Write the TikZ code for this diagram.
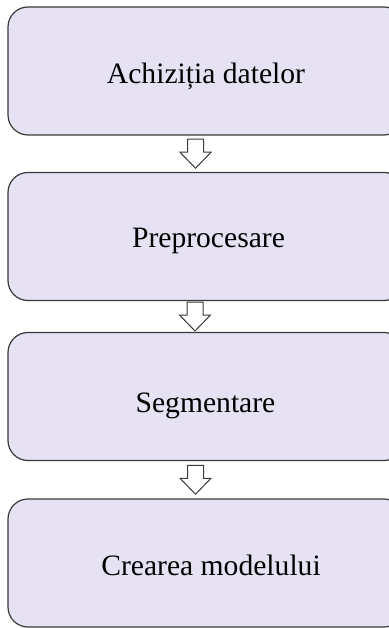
\documentclass[tikz,border=0pt]{standalone}
\usepackage{fontspec}
\setmainfont{Liberation Serif}
\usetikzlibrary{calc}
\definecolor{boxfill}{HTML}{E6E2F4}
\definecolor{boxline}{HTML}{3A3A3A}
\tikzset{
  stepbox/.style={draw=boxline, fill=boxfill, line width=1.2pt, rounded corners=20pt,
    minimum width=396pt, minimum height=128pt, inner sep=0pt},
  steptext/.style={anchor=base, inner sep=0pt, font=\fontsize{29.6}{34}\selectfont, text=black},
  flowarrow/.pic={\draw[draw=boxline, fill=white, line width=1pt, line join=miter]
    (-8,14.5) -- (8,14.5) -- (8,1.5) -- (15.5,1.5) -- (0,-14.5) -- (-15.5,1.5) -- (-8,1.5) -- cycle;}
}
\begin{document}
\begin{tikzpicture}[x=1pt,y=1pt]
\useasboundingbox (0,0) rectangle (388,-628);
\node[stepbox] (b1) at (206,-71) {};
\node[stepbox] (b2) at (206,-236.5) {};
\node[stepbox] (b3) at (206,-396.5) {};
\node[stepbox] (b4) at (206,-563) {};
\node[steptext] (t1) at ($(b1.center)+(0,-13)$) {Achiziția datelor};
\node[steptext] (t2) at ($(b2.center)+(2.5,-10.5)$) {Preprocesare};
\node[steptext] (t3) at ($(b3.center)+(-0.5,-15.5)$) {Segmentare};
\node[steptext] (t4) at ($(b4.center)+(5,-12)$) {Crearea modelului};
\path (b1.south) -- (b2.north) coordinate[pos=0.5] (m1);
\path (b2.south) -- (b3.north) coordinate[pos=0.5] (m2);
\path (b3.south) -- (b4.north) coordinate[pos=0.5] (m3);
\pic at ($(m1)+(-10.5,0)$) {flowarrow};
\pic at ($(m2)+(-11,0)$) {flowarrow};
\pic at ($(m3)+(-10.5,0)$) {flowarrow};
\end{tikzpicture}
\end{document}
